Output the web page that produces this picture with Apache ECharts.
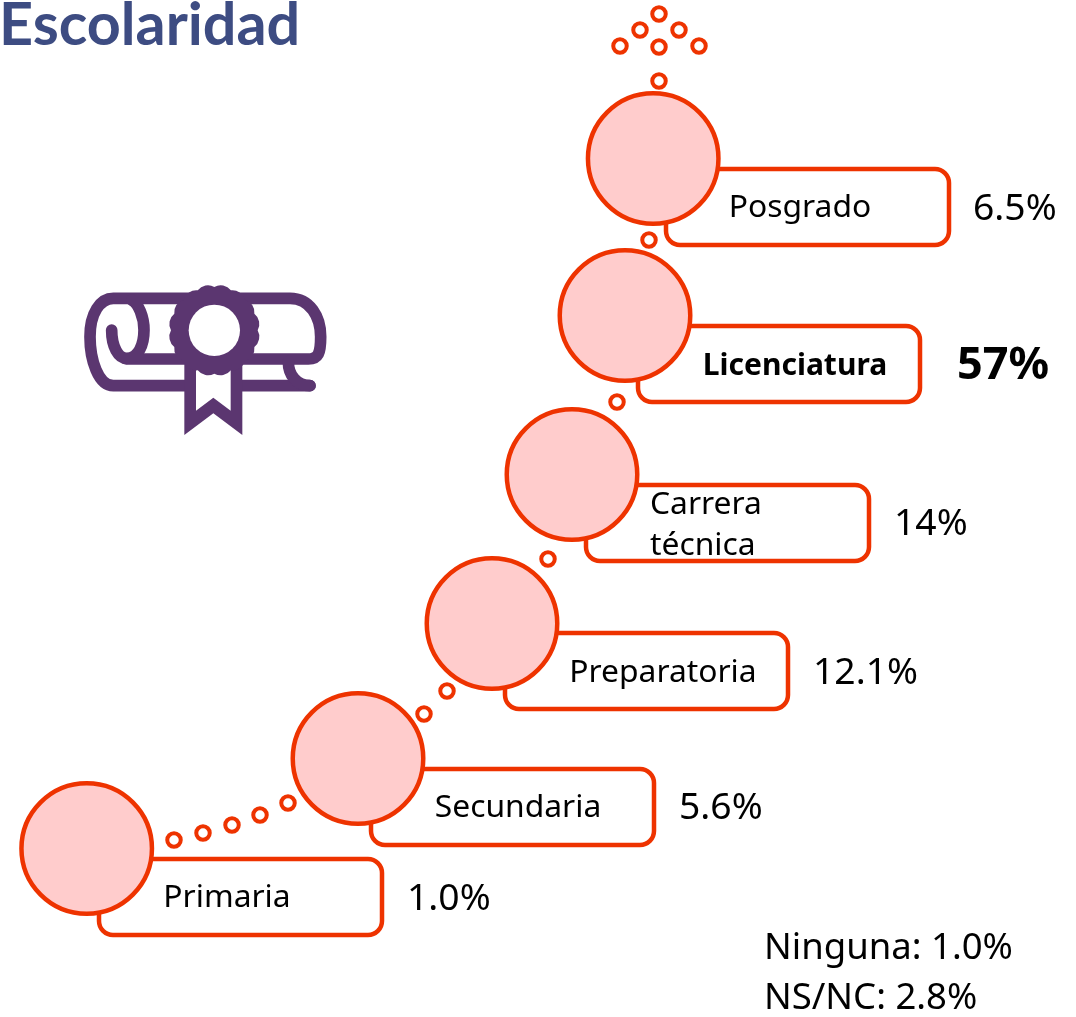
<!DOCTYPE html>
<html><head><meta charset="utf-8">
<style>html,body{margin:0;padding:0;background:#fff}#c{width:1076px;height:1017px}</style>
<script src="https://cdn.jsdelivr.net/npm/echarts@6/dist/echarts.min.js"></script>
</head><body><div id="c"></div>
<script>
const categories = ['Primaria','Secundaria','Preparatoria','Carrera\ntécnica','Licenciatura','Posgrado'];
const percentLabels = ['1.0%','5.6%','12.1%','14%','57%','6.5%'];
const stageX = [86.7,358,492,572,625,653.2];
const stageY = [848.5,758.5,623.5,474.5,315.5,158.5];
const boxLeft = [99,371,505,586,638,666];
const boxRight = [382,654,788,869,920,949];
const boxTop = [859,769,633,485,326,169];
const boxBottom = [935,845,709,561,402,245];
const labelX = [227,518,663,650,795,800];
const labelY = [898,808,673,525,366,208];
const pctX = [407,679,813,894,957,973];
const pctY = [899,808,673,524,366,209];
const dotX = [174,203,232,260,288,424,447,548,617,649,659,620,659,699,640,679,659];
const dotY = [840,833,825,815,803,714,691,559,402,240,81,46,47,46,30,30,14];
const footnotes = ['Ninguna: 1.0%','NS/NC: 2.8%'];
const footX = [764,764];
const footY = [949,999];
const iconAnchor = [[70,270]];
const titleText = 'Escolaridad';

const RED = '#EE3300', PINK = '#FFCCCC', PURPLE = '#5B3670', FONT = '"Noto Sans", sans-serif', TITLE_FONT = 'Lato, sans-serif';

const boxData = categories.map((c,i)=>[boxLeft[i],boxTop[i],boxRight[i],boxBottom[i]]);
function renderBox(params, api){
  const a = api.coord([api.value(0),api.value(1)]);
  const b = api.coord([api.value(2),api.value(3)]);
  return {type:'rect', shape:{x:a[0],y:a[1],width:b[0]-a[0],height:b[1]-a[1],r:14},
          style:{fill:'#fff',stroke:RED,lineWidth:4.5}};
}
function sealPath(cx,cy,R,n){
  let d='';
  for(let i=0;i<=n;i++){
    const t=i/n*2*Math.PI-Math.PI/2, x=cx+R*Math.cos(t), y=cy+R*Math.sin(t);
    if(i===0) d+=`M${x} ${y}`;
    else d+=`A${R*0.3} ${R*0.3} 0 0 1 ${x} ${y}`;
  }
  return d+'Z';
}
const stroke = {fill:null,stroke:PURPLE,lineWidth:35,lineCap:'round',lineJoin:'round'};
const iconChildren = [
  {type:'path',shape:{pathData:'M720 347H130C85 347 60 270 60 200C60 130 90 85 130 85H660C720 85 752 140 752 200C752 250 745 267 715 267H170'},style:stroke},
  {type:'path',shape:{pathData:'M125 180C125 230 145 265 170 265C205 265 222 225 222 180C222 140 205 100 185 90'},style:stroke},
  {type:'path',shape:{pathData:'M655 275C655 315 680 347 720 347'},style:stroke},
  {type:'path',shape:{pathData:'M343 280V495L430 430L517 495V280Z'},style:{fill:PURPLE}},
  {type:'path',shape:{pathData:'M378 295V422L430 383L482 422V295Z'},style:{fill:'#fff'}},
  {type:'path',shape:{pathData:sealPath(433,181,130,16)},style:{fill:PURPLE}},
  {type:'circle',shape:{cx:433,cy:181,r:77},style:{fill:'#fff'}}
];
function renderIcon(params, api){
  const p = api.coord([api.value(0),api.value(1)]);
  return {type:'group',x:p[0],y:p[1],scaleX:1/3,scaleY:1/3,children:iconChildren};
}

const chart = echarts.init(document.getElementById('c'),null,{renderer:'canvas'});
chart.setOption({
  animation:false,
  backgroundColor:'#fff',
  title:{text:titleText,left:-1,top:-4,padding:0,textStyle:{fontFamily:TITLE_FONT,fontSize:59.3,fontWeight:'bold',color:'#3D4C82'}},
  grid:{left:0,right:0,top:0,bottom:0},
  xAxis:{type:'value',min:0,max:1076,show:false},
  yAxis:{type:'value',min:0,max:1017,inverse:true,show:false},
  series:[
    {type:'custom',name:'icon',renderItem:renderIcon,data:iconAnchor,z:2,silent:true,clip:false},
    {type:'custom',name:'boxes',renderItem:renderBox,data:boxData,z:2,silent:true,clip:false},
    {type:'scatter',name:'stages',data:stageX.map((x,i)=>[x,stageY[i]]),symbol:'circle',symbolSize:130.5,z:3,silent:true,
     itemStyle:{color:PINK,borderColor:RED,borderWidth:4.5,opacity:1}},
    {type:'scatter',name:'dots',data:dotX.map((x,i)=>[x,dotY[i]]),symbol:'circle',symbolSize:13.5,z:3,silent:true,
     itemStyle:{color:'#fff',borderColor:RED,borderWidth:4,opacity:1}},
    {type:'scatter',name:'labels',symbolSize:0,z:4,silent:true,itemStyle:{opacity:1},
     data:categories.map((c,i)=>({value:[labelX[i],labelY[i]],
       label:{show:true,position:'inside',formatter:c,color:'#000',fontFamily:FONT,
         fontSize:i===4?30:31.8,fontWeight:i===4?'bold':'normal',lineHeight:41,
         align:i===3?'left':'center',verticalAlign:'middle'}}))},
    {type:'scatter',name:'percent',symbolSize:0,z:4,silent:true,itemStyle:{opacity:1},
     data:percentLabels.map((p,i)=>({value:[pctX[i],pctY[i]],
       label:{show:true,position:'inside',formatter:p,color:'#000',fontFamily:FONT,
         fontSize:i===4?45:37.3,fontWeight:i===4?'bold':'normal',align:'left',verticalAlign:'middle'}}))},
    {type:'scatter',name:'foot',symbolSize:0,z:4,silent:true,itemStyle:{opacity:1},
     data:footnotes.map((p,i)=>({value:[footX[i],footY[i]],
       label:{show:true,position:'inside',formatter:p,color:'#000',fontFamily:FONT,
         fontSize:36.5,align:'left',verticalAlign:'middle'}}))}
  ]
});
</script></body></html>
